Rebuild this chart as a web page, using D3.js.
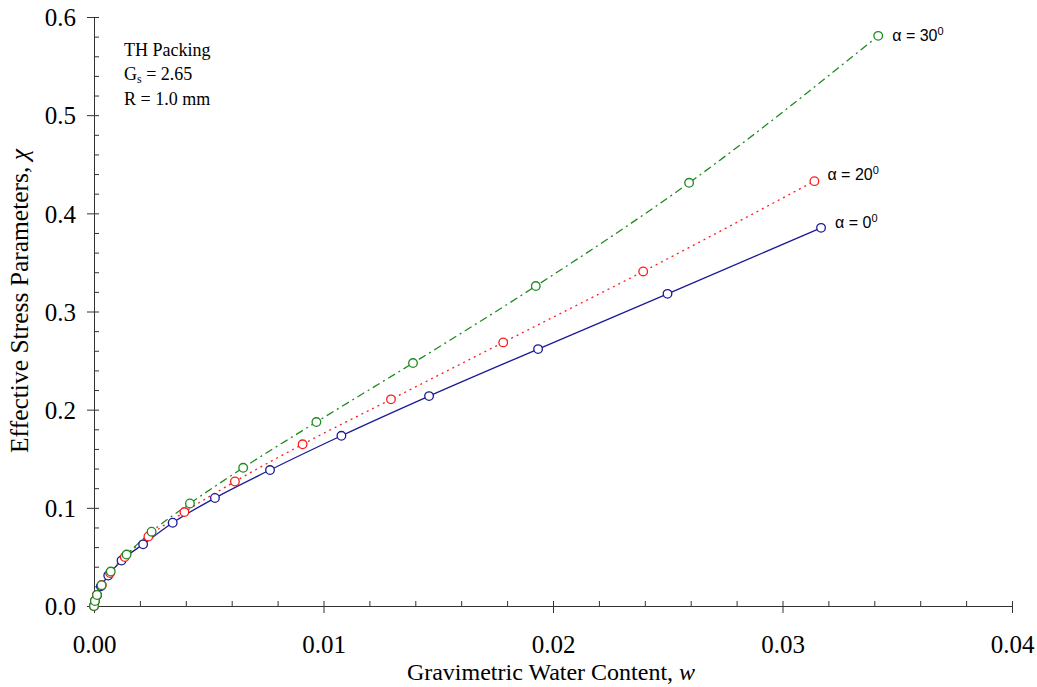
<!DOCTYPE html>
<html><head><meta charset="utf-8">
<script src="https://cdn.jsdelivr.net/npm/d3@7"></script>
<style>body{margin:0;background:#fff}svg{display:block}</style>
</head><body><svg id="c" width="1037" height="687"></svg>
<script>
// Data (w, chi)
const seriesNames = ["α = 0", "α = 20", "α = 30"];
const w0   = [0, 0.00004, 0.00013, 0.0003, 0.00062, 0.0012, 0.00214, 0.00343, 0.00527, 0.00767, 0.01078, 0.0146, 0.01935, 0.02499, 0.03168];
const chi0 = [0, 0.005, 0.011, 0.020, 0.031, 0.0463, 0.0628, 0.0848, 0.110, 0.1385, 0.1734, 0.2138, 0.2617, 0.318, 0.3852];
const w20   = [0, 0.00004, 0.00013, 0.00034, 0.0007, 0.00134, 0.00237, 0.00394, 0.00614, 0.00909, 0.01294, 0.01783, 0.02393, 0.03139];
const chi20 = [0, 0.005, 0.0112, 0.0214, 0.0336, 0.0499, 0.0708, 0.0957, 0.1268, 0.1647, 0.2105, 0.2685, 0.3408, 0.4328];
const w30   = [0, 0.00004, 0.00013, 0.00033, 0.00073, 0.00142, 0.00251, 0.00418, 0.0065, 0.00969, 0.0139, 0.01925, 0.02593, 0.03417];
const chi30 = [0, 0.0051, 0.0112, 0.0212, 0.0351, 0.0524, 0.0757, 0.1044, 0.1408, 0.1874, 0.2475, 0.3259, 0.4311, 0.5808];
const xMajor = [0, 0.01, 0.02, 0.03, 0.04];
const yMajor = [0, 0.1, 0.2, 0.3, 0.4, 0.5, 0.6];

const svg = d3.select("#c");
const x = d3.scaleLinear().domain([0, 0.04]).range([94, 1012]);
const y = d3.scaleLinear().domain([0, 0.6]).range([606, 17]);
const serif = "'Liberation Serif','Times New Roman',serif";
const sans = "'Liberation Sans',Arial,sans-serif";

const xMinor = d3.range(0, 0.0401, 0.002);
const yMinor = d3.range(0, 0.6001, 0.02);

// axes
const gx = svg.append("g").attr("transform", "translate(0,606)");
gx.call(d3.axisBottom(x).tickValues(xMinor).tickSize(-5).tickSizeOuter(0).tickFormat(""));
const gx2 = svg.append("g").attr("transform", "translate(0,606)");
gx2.call(d3.axisBottom(x).tickValues(xMajor).tickSize(7).tickSizeOuter(0).tickFormat(d3.format(".2f")));
gx2.select(".domain").remove();
gx2.selectAll("text").attr("y", 47).attr("dy", 0).style("font-family", serif).style("font-size", "25px").attr("fill", "#000");

const gy = svg.append("g").attr("transform", "translate(94,0)");
gy.call(d3.axisLeft(y).tickValues(yMinor).tickSize(-5).tickSizeOuter(0).tickFormat(""));
const gy2 = svg.append("g").attr("transform", "translate(94,0)");
gy2.call(d3.axisLeft(y).tickValues(yMajor).tickSize(7).tickSizeOuter(0).tickFormat(d3.format(".1f")));
gy2.select(".domain").remove();
gy2.selectAll("text").attr("x", -18).attr("dy", "0.35em").style("font-family", serif).style("font-size", "25px").attr("fill", "#000");
svg.selectAll(".domain, .tick line").attr("stroke", "#333").attr("stroke-width", 1);

// series
const series = [
  {w: w0, c: chi0, color: "#1a1a96", dash: null},
  {w: w20, c: chi20, color: "#ff1a1a", dash: "2,4"},
  {w: w30, c: chi30, color: "#1f8a1f", dash: "8,4,2,4"}
];
const line = d3.line().x(d => x(d[0])).y(d => y(d[1])).curve(d3.curveMonotoneX);
series.forEach(s => {
  const pts = s.w.map((v, i) => [v, s.c[i]]);
  svg.append("path").attr("d", line(pts)).attr("fill", "none")
    .attr("stroke", s.color).attr("stroke-width", 1.3)
    .attr("stroke-dasharray", s.dash);
});
series.forEach(s => {
  const pts = s.w.map((v, i) => [v, s.c[i]]);
  svg.append("g").selectAll("circle").data(pts).join("circle")
    .attr("cx", d => x(d[0])).attr("cy", d => y(d[1])).attr("r", 4.3)
    .attr("fill", "#fff").attr("stroke", s.color).attr("stroke-width", 1.3);
});

// series labels
const labs = [
  {name: seriesNames[2], s: series[2], dx: 14, dy: 5},
  {name: seriesNames[1], s: series[1], dx: 13, dy: -1},
  {name: seriesNames[0], s: series[0], dx: 14, dy: 0}
];
labs.forEach(l => {
  const n = l.s.w.length - 1;
  const t = svg.append("text").attr("x", x(l.s.w[n]) + l.dx).attr("y", y(l.s.c[n]) + l.dy)
    .style("font-family", sans).style("font-size", "16px").attr("fill", "#000");
  t.append("tspan").text(l.name);
  t.append("tspan").attr("dy", -6).style("font-size", "11px").text("0");
});

// annotation
const ann = svg.append("g").style("font-family", serif).style("font-size", "18px").attr("fill", "#000");
ann.append("text").attr("x", 124).attr("y", 56).text("TH Packing");
const g2 = ann.append("text").attr("x", 124).attr("y", 80);
g2.append("tspan").text("G");
g2.append("tspan").attr("dy", 3).style("font-size", "12px").text("s");
g2.append("tspan").attr("dy", -3).text(" = 2.65");
ann.append("text").attr("x", 124).attr("y", 105).text("R = 1.0 mm");

// axis titles
const xt = svg.append("text").attr("x", 551).attr("y", 680).attr("text-anchor", "middle")
  .style("font-family", serif).style("font-size", "24px").attr("fill", "#000");
xt.append("tspan").text("Gravimetric Water Content, ");
xt.append("tspan").style("font-style", "italic").text("w");
const yt = svg.append("text").attr("transform", "translate(28,301) rotate(-90)").attr("text-anchor", "middle")
  .style("font-family", serif).style("font-size", "25.5px").attr("fill", "#000");
yt.append("tspan").text("Effective Stress Parameters, ");
yt.append("tspan").style("font-style", "italic").text("χ");
</script></body></html>
